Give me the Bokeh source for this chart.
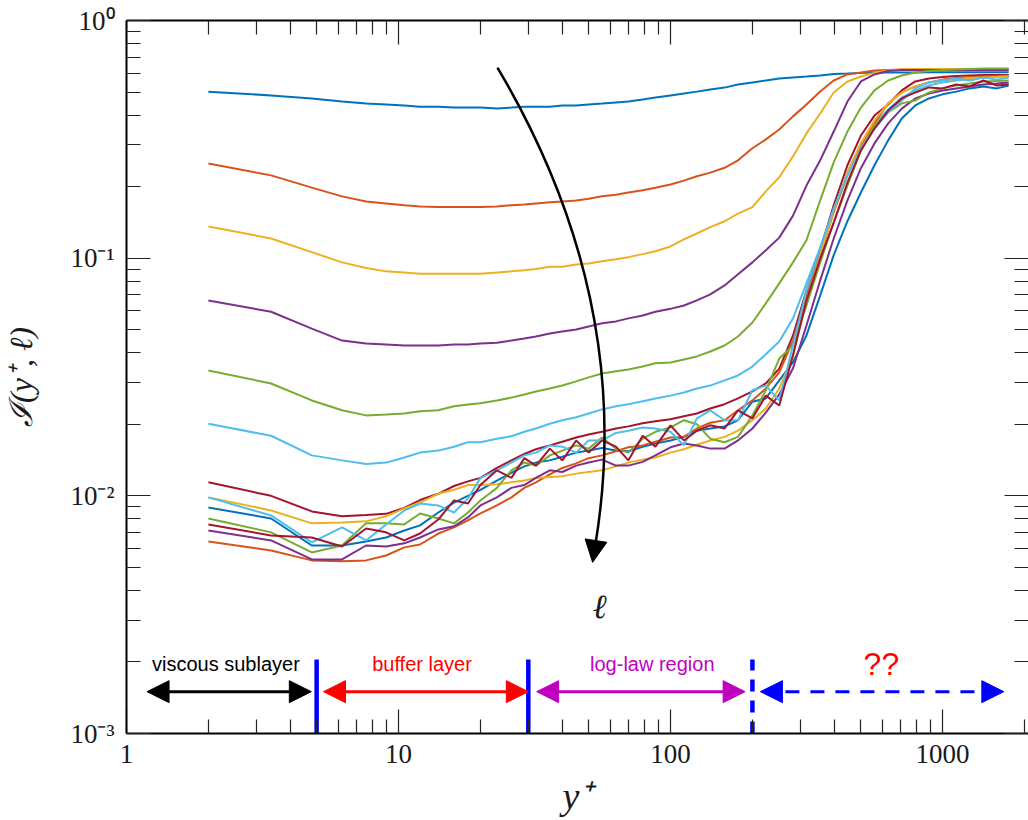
from bokeh.plotting import figure
from bokeh.models import Range1d, FixedTicker, LogAxis, Arrow, NormalHead, Label
from bokeh.embed import file_html
from bokeh.resources import INLINE

# wall distance y+ at which the intermittency profiles are sampled
y_plus = [2, 3.4, 4.8, 6.2, 7.6, 9, 10.5, 12, 14, 16, 18, 20, 23, 26, 29, 32, 36, 40, 45, 50,
          56, 63, 70, 79, 88, 100, 112, 125, 140, 158, 177, 200, 224, 251, 282, 316, 355, 398,
          447, 501, 562, 631, 708, 794, 891, 1000, 1122, 1259, 1413, 1585, 1750]

# I(y+, l) for increasing filter scale l
I_l01 = [0.502, 0.484, 0.470, 0.456, 0.447, 0.443, 0.439, 0.434, 0.434, 0.430,
         0.430, 0.430, 0.426, 0.430, 0.434, 0.434, 0.434, 0.439, 0.439, 0.443,
         0.447, 0.452, 0.456, 0.465, 0.474, 0.484, 0.493, 0.502, 0.512, 0.522,
         0.538, 0.549, 0.559, 0.570, 0.576, 0.581, 0.587, 0.596, 0.599, 0.602,
         0.604, 0.604, 0.604, 0.604, 0.605, 0.605, 0.605, 0.605, 0.605, 0.605, 0.605]
I_l02 = [0.250, 0.223, 0.198, 0.182, 0.173, 0.170, 0.167, 0.165, 0.164, 0.164,
         0.164, 0.164, 0.165, 0.167, 0.168, 0.170, 0.172, 0.173, 0.175, 0.178,
         0.182, 0.185, 0.189, 0.193, 0.198, 0.204, 0.212, 0.221, 0.229, 0.240,
         0.258, 0.290, 0.316, 0.348, 0.395, 0.443, 0.503, 0.559, 0.593, 0.604,
         0.616, 0.619, 0.622, 0.622, 0.622, 0.622, 0.622, 0.622, 0.622, 0.622, 0.622]
I_l03 = [0.136, 0.121, 0.106, 0.096, 0.091, 0.088, 0.087, 0.086, 0.086, 0.086,
         0.086, 0.086, 0.087, 0.088, 0.089, 0.090, 0.092, 0.092, 0.094, 0.095,
         0.097, 0.099, 0.101, 0.104, 0.107, 0.112, 0.120, 0.127, 0.135, 0.143,
         0.154, 0.164, 0.191, 0.219, 0.268, 0.335, 0.406, 0.498, 0.554, 0.581,
         0.602, 0.616, 0.622, 0.625, 0.625, 0.625, 0.625, 0.625, 0.625, 0.625, 0.625]
I_l04 = [0.0664, 0.0595, 0.0505, 0.0450, 0.0437, 0.0433, 0.0429, 0.0429, 0.0429, 0.0433,
         0.0433, 0.0437, 0.0441, 0.0450, 0.0459, 0.0468, 0.0482, 0.0491, 0.0501, 0.0516,
         0.0532, 0.0542, 0.0558, 0.0574, 0.0595, 0.0612, 0.0632, 0.0664, 0.0704, 0.0768,
         0.0855, 0.0960, 0.108, 0.122, 0.151, 0.202, 0.258, 0.341, 0.456, 0.554,
         0.593, 0.613, 0.619, 0.619, 0.619, 0.619, 0.619, 0.619, 0.619, 0.619, 0.619]
I_l05 = [0.0337, 0.0297, 0.0252, 0.0229, 0.0218, 0.0220, 0.0222, 0.0227, 0.0229, 0.0238,
         0.0242, 0.0245, 0.0252, 0.0259, 0.0267, 0.0275, 0.0283, 0.0291, 0.0303, 0.0315,
         0.0327, 0.0334, 0.0340, 0.0350, 0.0361, 0.0364, 0.0375, 0.0386, 0.0405, 0.0429,
         0.0468, 0.0536, 0.0645, 0.0783, 0.0960, 0.119, 0.175, 0.253, 0.341, 0.430,
         0.508, 0.559, 0.587, 0.604, 0.613, 0.619, 0.622, 0.625, 0.628, 0.628, 0.628]
I_l06 = [0.0201, 0.0179, 0.0148, 0.0141, 0.0136, 0.0138, 0.0145, 0.0152, 0.0155, 0.0161,
         0.0168, 0.0168, 0.0174, 0.0178, 0.0186, 0.0192, 0.0201, 0.0208, 0.0214, 0.0222,
         0.0231, 0.0238, 0.0243, 0.0250, 0.0257, 0.0264, 0.0272, 0.0283, 0.0291, 0.0306,
         0.0321, 0.0350, 0.0394, 0.0446, 0.0558, 0.0783, 0.111, 0.160, 0.230, 0.304,
         0.369, 0.422, 0.474, 0.508, 0.533, 0.549, 0.559, 0.568, 0.576, 0.581, 0.587]
I_l07 = [0.0114, 0.0100, 0.0086, 0.0082, 0.0083, 0.0084, 0.0089, 0.0096, 0.0102, 0.0110,
         0.0115, 0.0119, 0.0131, 0.0141, 0.0150, 0.0157, 0.0163, 0.0169, 0.0176, 0.0181,
         0.0186, 0.0192, 0.0196, 0.0202, 0.0206, 0.0210, 0.0216, 0.0222, 0.0233, 0.0243,
         0.0257, 0.0275, 0.0297, 0.0343, 0.0473, 0.0731, 0.108, 0.167, 0.246, 0.328,
         0.398, 0.443, 0.508, 0.554, 0.570, 0.579, 0.584, 0.587, 0.590, 0.590, 0.590]
I_l08 = [0.00893, 0.00803, 0.00618, 0.00618, 0.00643, 0.00668, 0.00715, 0.00751, 0.00851, 0.00937,
         0.0100, 0.0106, 0.0116, 0.0125, 0.0133, 0.0138, 0.0141, 0.0146, 0.0152, 0.0155,
         0.0159, 0.0155, 0.0154, 0.0161, 0.0166, 0.0171, 0.0177, 0.0188, 0.0192, 0.0196,
         0.0208, 0.0249, 0.0257, 0.0306, 0.0365, 0.0473, 0.0697, 0.103, 0.143, 0.189,
         0.246, 0.313, 0.387, 0.439, 0.470, 0.489, 0.502, 0.518, 0.528, 0.518, 0.533]
I_l09 = [0.00643, 0.00589, 0.00535, 0.00530, 0.00535, 0.00561, 0.00607, 0.00624, 0.00694, 0.00737,
         0.00788, 0.00843, 0.00911, 0.00985, 0.0108, 0.0114, 0.0123, 0.0131, 0.0137, 0.0144,
         0.0148, 0.0154, 0.0160, 0.0163, 0.0169, 0.0176, 0.0177, 0.0192, 0.0203, 0.0208,
         0.0229, 0.0252, 0.0283, 0.0331, 0.0450, 0.0697, 0.103, 0.156, 0.223, 0.298,
         0.372, 0.448, 0.498, 0.528, 0.549, 0.564, 0.573, 0.579, 0.581, 0.584, 0.587]
I_l10 = [0.00985, 0.00868, 0.00766, 0.00773, 0.00781, 0.00820, 0.00885, 0.00937, 0.0102, 0.0106,
         0.0111, 0.0111, 0.0112, 0.0114, 0.0116, 0.0119, 0.0120, 0.0121, 0.0124, 0.0126,
         0.0128, 0.0133, 0.0138, 0.0142, 0.0145, 0.0152, 0.0157, 0.0164, 0.0171, 0.0177,
         0.0188, 0.0208, 0.0233, 0.0283, 0.0390, 0.0664, 0.103, 0.159, 0.230, 0.304,
         0.380, 0.448, 0.498, 0.528, 0.549, 0.559, 0.568, 0.573, 0.576, 0.579, 0.581]
I_l11 = [0.00715, 0.00649, 0.00540, 0.00540, 0.00618, 0.00612, 0.00631, 0.00668, 0.00722, 0.00744,
         0.00811, 0.00911, 0.00985, 0.0108, 0.0111, 0.0119, 0.0128, 0.0126, 0.0134, 0.0138,
         0.0142, 0.0134, 0.0134, 0.0139, 0.0148, 0.0160, 0.0166, 0.0163, 0.0158, 0.0158,
         0.0171, 0.0192, 0.0224, 0.0267, 0.0344, 0.0521, 0.0806, 0.121, 0.175, 0.239,
         0.304, 0.369, 0.426, 0.470, 0.493, 0.508, 0.518, 0.528, 0.538, 0.543, 0.549]
I_l12 = [0.00803, 0.00702, 0.00578, 0.00618, 0.00766, 0.00766, 0.00758, 0.00843, 0.00803, 0.00766,
         0.00851, 0.00956, 0.0108, 0.0128, 0.0138, 0.0134, 0.0148, 0.0155, 0.0163, 0.0158,
         0.0176, 0.0158, 0.0152, 0.0174, 0.0186, 0.0194, 0.0208, 0.0200, 0.0174, 0.0168,
         0.0177, 0.0218, 0.0278, 0.0378, 0.0429, 0.0632, 0.0960, 0.141, 0.202, 0.284,
         0.362, 0.410, 0.448, 0.461, 0.498, 0.518, 0.533, 0.543, 0.554, 0.557, 0.559]
I_l13 = [0.00985, 0.00827, 0.00637, 0.00737, 0.00649, 0.00758, 0.00868, 0.00928, 0.00911, 0.00851,
         0.00975, 0.0119, 0.0128, 0.0138, 0.0148, 0.0152, 0.0163, 0.0161, 0.0152, 0.0171,
         0.0171, 0.0184, 0.0188, 0.0194, 0.0192, 0.0186, 0.0163, 0.0212, 0.0229, 0.0208,
         0.0208, 0.0278, 0.0291, 0.0252, 0.0429, 0.0731, 0.110, 0.162, 0.223, 0.289,
         0.351, 0.410, 0.461, 0.518, 0.549, 0.559, 0.570, 0.559, 0.576, 0.564, 0.576]
I_l14 = [0.00758, 0.00681, 0.00668, 0.00612, 0.00729, 0.00702, 0.00649, 0.00694, 0.00795, 0.00956,
         0.00928, 0.0111, 0.0128, 0.0119, 0.0144, 0.0134, 0.0158, 0.0141, 0.0171, 0.0152,
         0.0171, 0.0161, 0.0141, 0.0179, 0.0161, 0.0198, 0.0171, 0.0188, 0.0198, 0.0192,
         0.0229, 0.0212, 0.0264, 0.0240, 0.0390, 0.0664, 0.0996, 0.141, 0.208, 0.284,
         0.351, 0.418, 0.470, 0.498, 0.523, 0.518, 0.538, 0.528, 0.559, 0.533, 0.538]

profiles = [I_l01, I_l02, I_l03, I_l04, I_l05, I_l06, I_l07,
            I_l08, I_l09, I_l10, I_l11, I_l12, I_l13, I_l14]

# MATLAB-style line colour cycle
palette = ["#0072BD", "#D95319", "#EDB120", "#7E2F8E", "#77AC30", "#4DBEEE", "#A2142F"]

# axis ticks
x_major = [1, 10, 100, 1000]
x_major_labels = ["1", "10", "100", "1000"]
x_minor = [2, 3, 4, 5, 6, 7, 8, 9, 20, 30, 40, 50, 60, 70, 80, 90,
           200, 300, 400, 500, 600, 700, 800, 900, 2000]
y_major = [0.001, 0.01, 0.1, 1]
y_major_labels = ["10⁻³", "10⁻²", "10⁻¹", "10⁰"]
y_minor = [0.002, 0.003, 0.004, 0.005, 0.006, 0.007, 0.008, 0.009,
           0.02, 0.03, 0.04, 0.05, 0.06, 0.07, 0.08, 0.09,
           0.2, 0.3, 0.4, 0.5, 0.6, 0.7, 0.8, 0.9]

# near-wall layers: boundaries in y+ and the span of each annotation arrow
layer_bounds = [5, 30, 200]
layer_names = ["viscous sublayer", "buffer layer", "log-law region", "??"]
layer_colors = ["black", "#FF0000", "#BF00BF", "#0000FF"]
layer_spans = [(1.19, 4.78), (5.3, 30.0), (32.2, 188.0), (214.0, 1680.0)]

SERIF = "Liberation Serif"
SANS = "Liberation Sans"
INK = "#1a1a1a"

p = figure(width=1028, height=820, x_axis_type="log", y_axis_type="log",
           x_range=Range1d(1, 2070), y_range=Range1d(1e-3, 1),
           output_backend="svg", toolbar_location=None,
           min_border_left=126, min_border_right=0, min_border_top=20, min_border_bottom=87)
p.outline_line_color = None
p.grid.visible = False
p.background_fill_color = "white"
p.border_fill_color = "white"

xticker = FixedTicker(ticks=x_major, minor_ticks=x_minor)
yticker = FixedTicker(ticks=y_major, minor_ticks=y_minor)


def style_axis(ax, line=True):
    ax.axis_line_color = "black" if line else None
    ax.axis_line_width = 2
    ax.major_tick_in = 24
    ax.major_tick_out = 0
    ax.minor_tick_in = 14
    ax.minor_tick_out = 0
    ax.major_tick_line_color = "#222222"
    ax.minor_tick_line_color = "#222222"
    ax.major_tick_line_width = 1.2
    ax.minor_tick_line_width = 1.2


def hide_tick_labels(ax, ticks):
    ax.major_label_overrides = {t: " " for t in ticks}
    ax.major_label_text_font_size = "1px"
    ax.major_label_text_alpha = 0
    ax.major_label_standoff = 0


xa = p.xaxis[0]
xa.ticker = xticker
style_axis(xa)
xa.major_label_overrides = dict(zip(x_major, x_major_labels))
xa.major_label_text_font = SERIF
xa.major_label_text_font_size = "27px"
xa.major_label_text_color = INK
xa.major_label_standoff = 11
xa.axis_label = "y⁺"
xa.axis_label_text_font = SERIF
xa.axis_label_text_font_style = "italic"
xa.axis_label_text_font_size = "38px"
xa.axis_label_text_color = INK
xa.axis_label_standoff = 9

ya = p.yaxis[0]
ya.ticker = yticker
style_axis(ya)
ya.major_label_overrides = dict(zip(y_major, y_major_labels))
ya.major_label_text_font = SERIF
ya.major_label_text_font_size = "27px"
ya.major_label_text_color = INK
ya.major_label_standoff = 12
ya.axis_label = "ℐ(y⁺, ℓ)"
ya.axis_label_text_font = SERIF
ya.axis_label_text_font_style = "italic"
ya.axis_label_text_font_size = "32px"
ya.axis_label_text_color = INK
ya.axis_label_standoff = 28

# mirrored tick axes on top and right (no labels)
top_ax = LogAxis(ticker=xticker)
style_axis(top_ax)
hide_tick_labels(top_ax, x_major)
p.add_layout(top_ax, "above")
right_ax = LogAxis(ticker=yticker)
style_axis(right_ax, line=False)
hide_tick_labels(right_ax, y_major)
p.add_layout(right_ax, "right")

# intermittency profiles
for i, prof in enumerate(profiles):
    p.line(y_plus, prof, line_color=palette[i % len(palette)], line_width=2)

# layer boundaries (last one is uncertain, hence dashed)
bar_bottom, bar_top, arrow_y = 1e-3, 2.05e-3, 1.5e-3
p.segment(x0=layer_bounds[:2], y0=[bar_bottom] * 2, x1=layer_bounds[:2], y1=[bar_top] * 2,
          line_color="#0000FF", line_width=4.5)
p.segment(x0=layer_bounds[2:], y0=[bar_bottom], x1=layer_bounds[2:], y1=[bar_top],
          line_color="#0000FF", line_width=4.5, line_dash="12 9")

text_y = 1.97e-3
text_x = [2.32, 12.2, 85.7, 596.0]
text_sizes = ["20px", "20px", "20px", "32px"]
text_colors = ["black", "#FF0000", "#BF00BF", "#FF0000"]
for (x0, x1), col, dashed in zip(layer_spans, layer_colors, [False, False, False, True]):
    head_kw = dict(size=22, fill_color=col, line_color=col, line_width=1)
    arr = Arrow(start=NormalHead(**head_kw), end=NormalHead(**head_kw),
                x_start=x0, y_start=arrow_y, x_end=x1, y_end=arrow_y,
                line_color=col, line_width=3)
    if dashed:
        arr.line_dash = "14 11"
    p.add_layout(arr)

for name, tx, size, col in zip(layer_names, text_x, text_sizes, text_colors):
    p.add_layout(Label(x=tx, y=text_y, text=name, text_align="center",
                       text_baseline="alphabetic", text_font=SANS,
                       text_font_size=size, text_color=col))

# curved arrow: direction of increasing filter scale
p.quadratic(x0=[23.1], y0=[0.634], x1=[53.0], y1=[0.0063], cx=[74.4], cy=[0.0664],
            line_color="black", line_width=2.5)
p.add_layout(Arrow(end=NormalHead(size=22, fill_color="black", line_color="black"),
                   x_start=53.0, y_start=0.0063, x_end=51.7, y_end=0.00525,
                   line_color="black", line_width=2.5))
p.add_layout(Label(x=54.8, y=0.00342, text="ℓ", text_align="center", text_baseline="middle",
                   text_font=SERIF, text_font_style="italic", text_font_size="34px",
                   text_color=INK))

open("out.html", "w").write(file_html(p, INLINE))
